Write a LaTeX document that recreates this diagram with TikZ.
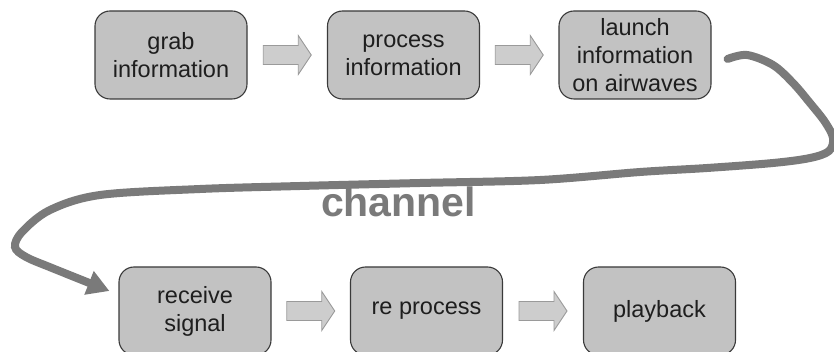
\documentclass[tikz,border=0pt]{standalone}
\usepackage{fontspec}
\setmainfont{Liberation Sans}
\usetikzlibrary{calc,arrows.meta}

\definecolor{boxfill}{HTML}{C2C2C2}
\definecolor{boxline}{HTML}{3A3A3A}
\definecolor{arrfill}{HTML}{CDCDCD}
\definecolor{arrline}{HTML}{9A9A9A}
\definecolor{wave}{HTML}{7A7A7A}
\definecolor{ink}{HTML}{1E1E1E}

\tikzset{
  stage/.style={draw=boxline, fill=boxfill, line width=1.1pt,
    rounded corners=15pt, minimum width=152pt, minimum height=88pt,
    align=center, text=ink,
    font=\fontsize{23.5pt}{28pt}\selectfont},
  blockarrow/.pic={
    \draw[draw=arrline, fill=arrfill, line width=0.9pt]
      (-24,-9.5) -- (11,-9.5) -- (11,-19.5) -- (24,0) -- (11,19.5)
      -- (11,9.5) -- (-24,9.5) -- cycle;
  },
  airwave/.style={draw=wave, line width=8pt, line cap=round,
    -{Triangle[length=22pt,width=24pt]}},
}

\begin{document}
\begin{tikzpicture}[x=1pt,y=-1pt]
  \useasboundingbox (0,0) rectangle (834,352);
  \clip (0,0) rectangle (834,352);

  % transmitting side
  \node[stage] (grab)    at (171,55)   {grab\\information};
  \node[stage] (proc)    at (403.5,55) {process\\information};
  \node[stage] (launch)  at (635,55)   {launch\\information\\on airwaves};

  % receiving side
  \node[stage] (recv)    at (195,311)   {receive\\signal};
  \node[stage] (reproc)  at (426.5,311) {re process};
  \node[stage] (play)    at (659.5,311) {playback};

  % block arrows between stages
  \pic at ($(grab.east)!0.5!(proc.west)$)   {blockarrow};
  \pic at ($(proc.east)!0.5!(launch.west)$) {blockarrow};
  \pic at ($(recv.east)!0.5!(reproc.west)$) {blockarrow};
  \pic at ($(reproc.east)!0.5!(play.west)$) {blockarrow};

  % the channel: a hand-drawn loop from transmitter to receiver
  \coordinate (cs) at ($(launch.east)+(16,4)$);
  \coordinate (ce) at ($(recv.west)+(-9,-20)$);
  \draw[airwave] plot[smooth, tension=0.55] coordinates {
    (cs) (747,55) (773,65) (793,83) (810,103) (825,122) (833,138)
    (829,151) (810,158) (773,163) (707,168) (640,172) (540,180)
    (420,183) (300,186) (200,189) (100,195) (50,210) (22,232)
    (15,247) (26,257) (52,268) (ce)};

  \node[anchor=base, text=wave, font=\bfseries\fontsize{41pt}{48pt}\selectfont]
    (chan) at (398.5,217) {channel};
\end{tikzpicture}
\end{document}
